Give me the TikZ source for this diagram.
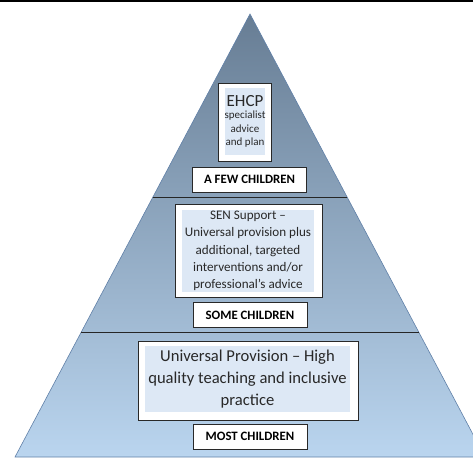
\documentclass[tikz,border=0pt]{standalone}
\usepackage{fontspec}
\setmainfont{Carlito}
\usetikzlibrary{calc}
\definecolor{pyrtop}{RGB}{103,125,148}
\definecolor{pyrbot}{RGB}{186,213,239}
\definecolor{pyredge}{RGB}{96,128,168}
\definecolor{panelfill}{RGB}{221,232,245}
\definecolor{inkgray}{RGB}{40,40,40}

\begin{document}
\begin{tikzpicture}[x=1pt, y=-1pt,
  panel/.style={draw=inkgray, line width=0.8pt, fill=white},
  textbox/.style={fill=panelfill, align=center, text=inkgray, inner sep=0pt},
  tag/.style={draw=inkgray, line width=0.8pt, fill=white, minimum width=114, minimum height=25,
              inner sep=0pt, font=\fontsize{12.8}{14}\selectfont\bfseries, text=black},
  divider/.style={line width=1pt, draw=black!85}
]
  \useasboundingbox (0,0) rectangle (473,457);
  \clip (0,0) rectangle (473,457);
  \fill[black] (0,0) rectangle (473,2.5);

  % the pyramid and its two tier lines
  \coordinate (apex) at (250,14);
  \coordinate (baseL) at (15,457);
  \coordinate (baseR) at (485,457);
  \path[draw=pyredge, line width=0.6pt, top color=pyrtop, bottom color=pyrbot]
    (apex) -- (baseL) -- (baseR) -- cycle;

  \coordinate (upperL) at ($(apex)!0.414!(baseL)$);
  \coordinate (upperR) at ($(apex)!0.414!(baseR)$);
  \coordinate (lowerL) at ($(apex)!0.718!(baseL)$);
  \coordinate (lowerR) at ($(apex)!0.718!(baseR)$);
  \draw[divider] (upperL) -- (upperR);
  \draw[divider] (lowerL) -- (lowerR);

  % top tier
  \node[panel, minimum width=53, minimum height=78] (ehcpframe) at (244.5,122) {};
  \node[textbox, minimum width=34, minimum height=67, font=\fontsize{11}{13.3}\selectfont]
    (ehcp) at (245,121.5) {{\fontsize{17}{17}\selectfont EHCP}\\[-1.5pt]specialist\\advice\\and plan};
  \node[tag] (few) at (249.5,179.5) {A FEW CHILDREN};

  % middle tier
  \node[panel, minimum width=147, minimum height=93] (senframe) at (248.5,250.5) {};
  \node[textbox, minimum width=132, minimum height=82, font=\fontsize{13.1}{17.4}\selectfont]
    (sen) at (248,251) {SEN Support --\\Universal provision plus\\additional, targeted\\interventions and/or\\professional’s advice};
  \node[tag] (some) at (250,315) {SOME CHILDREN};

  % bottom tier
  \node[panel, minimum width=220, minimum height=79] (uniframe) at (248,380.5) {};
  \node[textbox, minimum width=205, minimum height=66, font=\fontsize{16.6}{21.6}\selectfont]
    (uni) at (247.5,379) {Universal Provision -- High\\quality teaching and inclusive\\practice};
  \node[tag] (most) at (250,436.5) {MOST CHILDREN};
\end{tikzpicture}
\end{document}
